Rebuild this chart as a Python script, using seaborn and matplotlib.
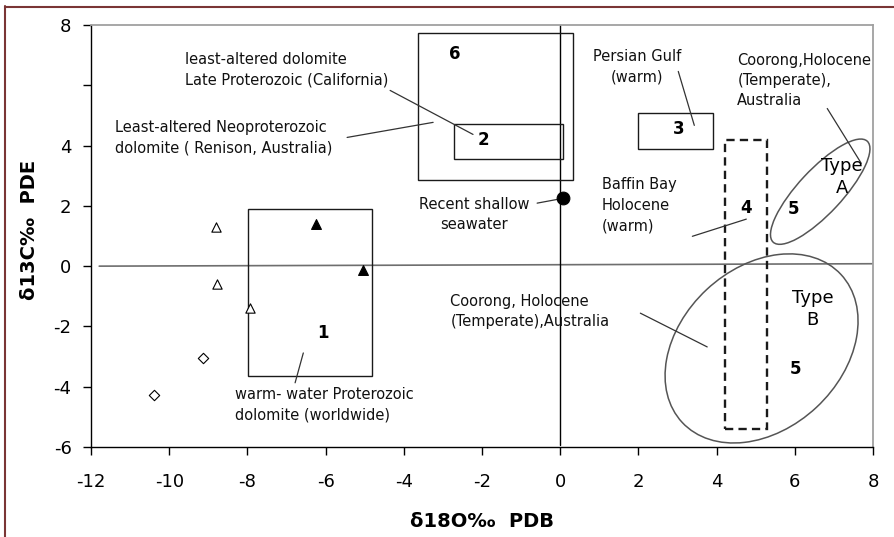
import matplotlib
matplotlib.use("Agg")
import matplotlib.pyplot as plt
import matplotlib.transforms as mtransforms
from matplotlib.patches import Rectangle, Ellipse
from matplotlib.lines import Line2D
import seaborn as sns

# ---------------- data ----------------
x_ticks = [-12, -10, -8, -6, -4, -2, 0, 2, 4, 6, 8]
y_ticks = [-6, -4, -2, 0, 2, 4, 6, 8]
y_tick_labels = ["-6", "-4", "-2", "0", "2", "4", "", "8"]

open_tri_x = [-8.8, -8.77, -7.93]
open_tri_y = [1.3, -0.6, -1.38]
filled_tri_x = [-6.24, -5.04]
filled_tri_y = [1.4, -0.12]
diamond_x = [-9.13, -10.4]
diamond_y = [-3.05, -4.27]
seawater_x = [0.08]
seawater_y = [2.25]

# field boxes
box_labels = ["1", "2", "3", "4", "6"]
box_x0 = [-7.98, -2.71, 2.0, 4.22, -3.63]
box_x1 = [-4.81, 0.08, 3.91, 5.29, 0.33]
box_y0 = [-3.64, 3.57, 3.9, -5.4, 2.85]
box_y1 = [1.89, 4.73, 5.07, 4.17, 7.75]
box_dashed = [False, False, False, True, False]
box_label_x = [-6.06, -1.97, 3.02, 4.76, -2.69]
box_label_y = [-2.22, 4.2, 4.54, 1.92, 7.05]

# ellipses (Coorong Holocene dolomite, Types A and B)
ell_names = ["Type\nA", "Type\nB"]
ell_cx = [6.65, 5.15]
ell_cy = [2.47, -2.73]
ell_text_x = [7.21, 6.45]
ell_text_y = [2.96, -1.41]
ell_five_x = [5.96, 6.01]
ell_five_y = [1.89, -3.41]

# annotations
ann_text = [
    "least-altered dolomite\nLate Proterozoic (California)",
    "Least-altered Neoproterozoic\ndolomite ( Renison, Australia)",
    "Recent shallow\nseawater",
    "Persian Gulf\n(warm)",
    "Coorong,Holocene\n(Temperate),\nAustralia",
    "Baffin Bay\nHolocene\n(warm)",
    "warm- water Proterozoic\ndolomite (worldwide)",
    "Coorong, Holocene\n(Temperate),Australia",
]
ann_x = [-9.59, -11.38, -2.2, 1.97, 4.53, 1.07, -8.31, -2.81]
ann_y = [6.51, 4.27, 1.71, 6.62, 6.16, 2.02, -4.6, -1.51]
ann_ha = ["left", "left", "center", "center", "left", "left", "left", "left"]
lead_x0 = [-4.35, -5.45, -0.59, 3.02, 6.83, 3.38, -6.78, 2.05]
lead_y0 = [5.83, 4.27, 2.09, 6.46, 5.23, 0.99, -3.87, -1.56]
lead_x1 = [-2.23, -3.25, -0.05, 3.43, 7.70, 4.76, -6.57, 3.76]
lead_y1 = [4.37, 4.77, 2.22, 4.67, 3.41, 1.56, -2.88, -2.68]

zero_line_x = [-11.79, 8.0]
zero_line_y = [0.0, 0.08]
vert_line_x = [0.0, 0.0]
vert_line_y = [8.0, -5.93]

# ---------------- style ----------------
sns.set_style("ticks")
plt.rcParams["font.family"] = ["DejaVu Sans"]
plt.rcParams["axes.unicode_minus"] = False
plt.rcParams["text.color"] = "black"
plt.rcParams["axes.labelcolor"] = "black"
plt.rcParams["xtick.color"] = "black"
plt.rcParams["ytick.color"] = "black"

fig = plt.figure(figsize=(8.94, 5.37), dpi=100)
ax = fig.add_axes([91 / 894, 1 - 447 / 537, 782 / 894, 422 / 537])
ax.set_xlim(-12, 8)
ax.set_ylim(-6, 8)

sns.lineplot(x=zero_line_x, y=zero_line_y, ax=ax, color="#6e6e6e", lw=1.2,
             estimator=None, sort=False)
sns.lineplot(x=vert_line_x, y=vert_line_y, ax=ax, color="black", lw=1.0,
             estimator=None, sort=False)

for i in range(len(box_labels)):
    ls = (0, (3.5, 2.2)) if box_dashed[i] else "-"
    lw = 1.7 if box_dashed[i] else 1.0
    ax.add_patch(Rectangle((box_x0[i], box_y0[i]), box_x1[i] - box_x0[i],
                           box_y1[i] - box_y0[i], fill=False,
                           edgecolor="#1a1a1a", lw=lw, linestyle=ls, zorder=2))
    ax.text(box_label_x[i], box_label_y[i], box_labels[i], fontsize=12,
            fontweight="bold", ha="center", va="center", color="black", zorder=4)

ell_w_px = [138, 217]
ell_h_px = [44, 161]
ell_ang = [47, 43]
for i in range(2):
    trans = fig.dpi_scale_trans + mtransforms.ScaledTranslation(
        ell_cx[i], ell_cy[i], ax.transData)
    ax.add_patch(Ellipse((0, 0), ell_w_px[i] / 100, ell_h_px[i] / 100,
                         angle=ell_ang[i], fill=False, edgecolor="#555555",
                         lw=1.1, transform=trans, zorder=2))
    ax.text(ell_text_x[i], ell_text_y[i], ell_names[i], fontsize=13,
            ha="center", va="center", linespacing=1.3, color="black", zorder=4)
    ax.text(ell_five_x[i], ell_five_y[i], "5", fontsize=12,
            fontweight="bold", ha="center", va="center", color="black", zorder=4)

for i in range(len(ann_text)):
    ax.text(ann_x[i], ann_y[i], ann_text[i], fontsize=10.5, ha=ann_ha[i],
            va="center", multialignment="center" if ann_ha[i] == "center" else "left",
            linespacing=1.45, color="#111111", zorder=4)
    ax.add_line(Line2D([lead_x0[i], lead_x1[i]], [lead_y0[i], lead_y1[i]],
                       color="#333333", lw=0.9, zorder=3))

sns.scatterplot(x=open_tri_x, y=open_tri_y, ax=ax, marker="^", s=45,
                color="white", edgecolor="black", linewidth=0.8, zorder=5)
sns.scatterplot(x=filled_tri_x, y=filled_tri_y, ax=ax, marker="^", s=50,
                color="black", edgecolor="black", linewidth=0.8, zorder=5)
sns.scatterplot(x=diamond_x, y=diamond_y, ax=ax, marker="D", s=28,
                color="white", edgecolor="black", linewidth=0.8, zorder=5)
sns.scatterplot(x=seawater_x, y=seawater_y, ax=ax, marker="o", s=85,
                color="black", edgecolor="black", zorder=6)

ax.set_xticks(x_ticks)
ax.set_yticks(y_ticks)
ax.set_yticklabels(y_tick_labels)
ax.tick_params(axis="both", direction="out", length=6, width=1,
               labelsize=13, colors="black")
ax.tick_params(axis="x", pad=13)
ax.tick_params(axis="y", pad=8)
for side in ["left", "bottom"]:
    ax.spines[side].set_color("black")
    ax.spines[side].set_linewidth(1.0)
for side in ["top", "right"]:
    ax.spines[side].set_visible(True)
    ax.spines[side].set_color("#a0a0a0")
    ax.spines[side].set_linewidth(1.3)

ax.set_xlabel("δ18O‰  PDB", fontsize=14, fontweight="bold", color="black")
ax.set_ylabel("δ13C‰  PDE", fontsize=14, fontweight="bold", color="black")
ax.xaxis.set_label_coords(0.5, -0.155)
ax.yaxis.set_label_coords(-0.066, 0.515)

fig.add_artist(Line2D([4.5 / 894, 4.5 / 894], [0, 1 - 6 / 537],
                      color="#7a3535", lw=1.5, transform=fig.transFigure))
fig.add_artist(Line2D([4.5 / 894, 1], [1 - 6.5 / 537, 1 - 6.5 / 537],
                      color="#7a3535", lw=1.5, transform=fig.transFigure))

fig.savefig("out.png", dpi=100)
